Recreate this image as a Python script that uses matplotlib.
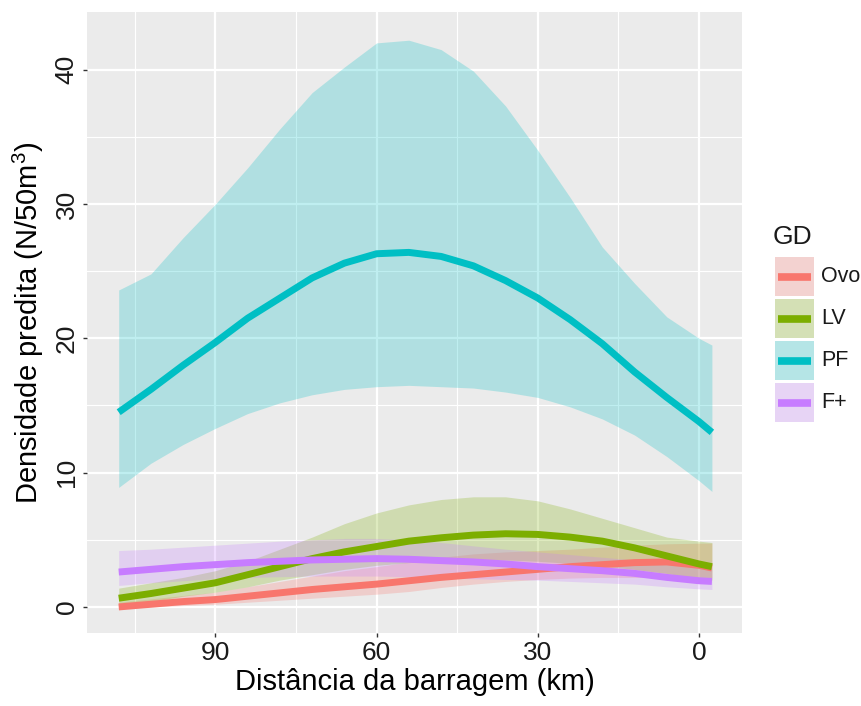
import numpy as np
import matplotlib.pyplot as plt
from matplotlib.patches import Rectangle
from matplotlib.lines import Line2D

plt.rcParams['font.family'] = ['Liberation Sans', 'DejaVu Sans']
plt.rcParams['mathtext.fontset'] = 'custom'
plt.rcParams['mathtext.rm'] = 'Liberation Sans'

# distance from the dam (km)
dist = [108, 102, 96, 90, 84, 78, 72, 66, 60, 54, 48, 42, 36, 30, 24, 18, 12, 6, 0, -2.4]

groups = ["Ovo", "LV", "PF", "F+"]
colors = ["#F8766D", "#7CAE00", "#00BFC4", "#C77CFF"]

# predicted density and confidence band per group
ovo_fit = [0.0, 0.2, 0.4, 0.55, 0.8, 1.05, 1.3, 1.5, 1.7, 1.95, 2.2, 2.4, 2.6, 2.8, 3.0, 3.15, 3.3, 3.35, 3.1, 2.9]
ovo_hi = [0.35, 0.6, 0.85, 1.1, 1.5, 1.9, 2.3, 2.7, 3.0, 3.35, 3.7, 3.95, 4.1, 4.2, 4.3, 4.45, 4.6, 4.7, 4.75, 4.75]
ovo_lo = [-0.1, 0.0, 0.1, 0.2, 0.35, 0.5, 0.65, 0.8, 0.95, 1.15, 1.45, 1.7, 1.9, 2.05, 2.15, 2.2, 2.2, 2.2, 2.2, 2.2]

lv_fit = [0.65, 1.0, 1.4, 1.8, 2.4, 3.0, 3.6, 4.1, 4.5, 4.9, 5.15, 5.35, 5.45, 5.4, 5.2, 4.9, 4.4, 3.8, 3.2, 3.0]
lv_hi = [1.4, 1.8, 2.2, 2.7, 3.4, 4.3, 5.2, 6.2, 7.0, 7.6, 8.0, 8.2, 8.2, 7.9, 7.3, 6.6, 5.9, 5.2, 4.9, 4.8]
lv_lo = [0.0, 0.4, 0.8, 1.1, 1.5, 2.0, 2.4, 2.8, 3.1, 3.3, 3.45, 3.5, 3.5, 3.4, 3.25, 3.05, 2.8, 2.5, 2.1, 2.0]

pf_fit = [14.5, 16.2, 18.0, 19.7, 21.5, 23.0, 24.5, 25.6, 26.3, 26.4, 26.1, 25.4, 24.3, 23.0, 21.4, 19.6, 17.5, 15.6, 13.8, 13.0]
pf_hi = [23.6, 24.8, 27.5, 30.0, 32.7, 35.6, 38.3, 40.2, 42.0, 42.2, 41.5, 39.9, 37.3, 34.0, 30.5, 26.8, 24.1, 21.6, 20.0, 19.5]
pf_lo = [8.9, 10.7, 12.1, 13.3, 14.4, 15.2, 15.8, 16.2, 16.4, 16.5, 16.4, 16.3, 16.0, 15.6, 14.9, 14.0, 12.8, 11.2, 9.4, 8.6]

fp_fit = [2.6, 2.8, 3.0, 3.15, 3.3, 3.4, 3.5, 3.55, 3.6, 3.55, 3.45, 3.35, 3.2, 3.0, 2.85, 2.7, 2.5, 2.2, 1.95, 1.9]
fp_hi = [4.2, 4.3, 4.45, 4.6, 4.75, 4.9, 5.0, 5.1, 5.1, 5.0, 4.8, 4.55, 4.3, 4.1, 3.9, 3.7, 3.5, 3.2, 3.05, 3.0]
fp_lo = [1.6, 1.8, 1.95, 2.1, 2.2, 2.25, 2.3, 2.3, 2.3, 2.25, 2.15, 2.1, 2.05, 2.0, 1.9, 1.8, 1.7, 1.5, 1.35, 1.3]

fits = [ovo_fit, lv_fit, pf_fit, fp_fit]
his = [ovo_hi, lv_hi, pf_hi, fp_hi]
los = [ovo_lo, lv_lo, pf_lo, fp_lo]

band_alpha = 0.25

W, H = 861, 706
fig = plt.figure(figsize=(W / 100, H / 100), dpi=100)
ax = fig.add_axes([87 / W, 1 - 633 / H, (742 - 87) / W, (633 - 12) / H])
ax.set_facecolor("#EBEBEB")

for lo, hi, c in zip(los, his, colors):
    ax.fill_between(dist, lo, hi, color=c, alpha=band_alpha, linewidth=0, zorder=2)
for fit, c in zip(fits, colors):
    ax.plot(dist, fit, color=c, linewidth=5, solid_capstyle="butt", zorder=3)

# reversed x axis, ggplot-like expansion
ax.set_xlim(113.9, -8.0)
ax.set_ylim(-1.94, 44.3)
ax.set_xticks([90, 60, 30, 0])
ax.set_xticks([105, 75, 45, 15], minor=True)
ax.set_yticks([0, 10, 20, 30, 40])
ax.set_yticks([5, 15, 25, 35], minor=True)
ax.grid(which="major", color="white", linewidth=1.6, zorder=1)
ax.grid(which="minor", color="white", linewidth=0.8, zorder=1)
ax.set_axisbelow(True)
for s in ax.spines.values():
    s.set_visible(False)

ax.tick_params(which="major", length=3, width=1.0, color="#333333", labelsize=19,
               labelcolor="#1A1A1A", pad=3)
ax.tick_params(which="minor", length=0)
ax.tick_params(axis="y", labelrotation=90)
for lab in ax.get_yticklabels():
    lab.set_va("center")

ax.set_xlabel("Distância da barragem (km)", fontsize=21, labelpad=2)
ax.set_ylabel(r"Densidade predita (N/50m$\mathregular{^3}$)", fontsize=21, labelpad=6)

# legend drawn by hand (ggplot-style keys: band fill + line)
def fx(px):
    return px / W

def fy(py):
    return 1 - py / H

fig.text(fx(773), fy(237), "GD", fontsize=19, color="#1A1A1A", ha="left", va="center")
key_x0, key_w, key_h, key_step, key_top = 775, 39, 39, 42, 257
for i, (g, c) in enumerate(zip(groups, colors)):
    top = key_top + i * key_step
    fig.add_artist(Rectangle((fx(key_x0), fy(top + key_h)), key_w / W, key_h / H,
                             transform=fig.transFigure, facecolor="#F2F2F2", edgecolor="none"))
    fig.add_artist(Rectangle((fx(key_x0), fy(top + key_h)), key_w / W, key_h / H,
                             transform=fig.transFigure, facecolor=c, alpha=band_alpha,
                             edgecolor="none"))
    yc = top + key_h / 2
    fig.add_artist(Line2D([fx(key_x0 + 3), fx(key_x0 + key_w - 3)], [fy(yc), fy(yc)],
                          transform=fig.transFigure, color=c, linewidth=5.5,
                          solid_capstyle="butt"))
    fig.text(fx(821), fy(yc), g, fontsize=15.5, color="#1A1A1A", ha="left", va="center")

fig.savefig("out.png", dpi=100)
